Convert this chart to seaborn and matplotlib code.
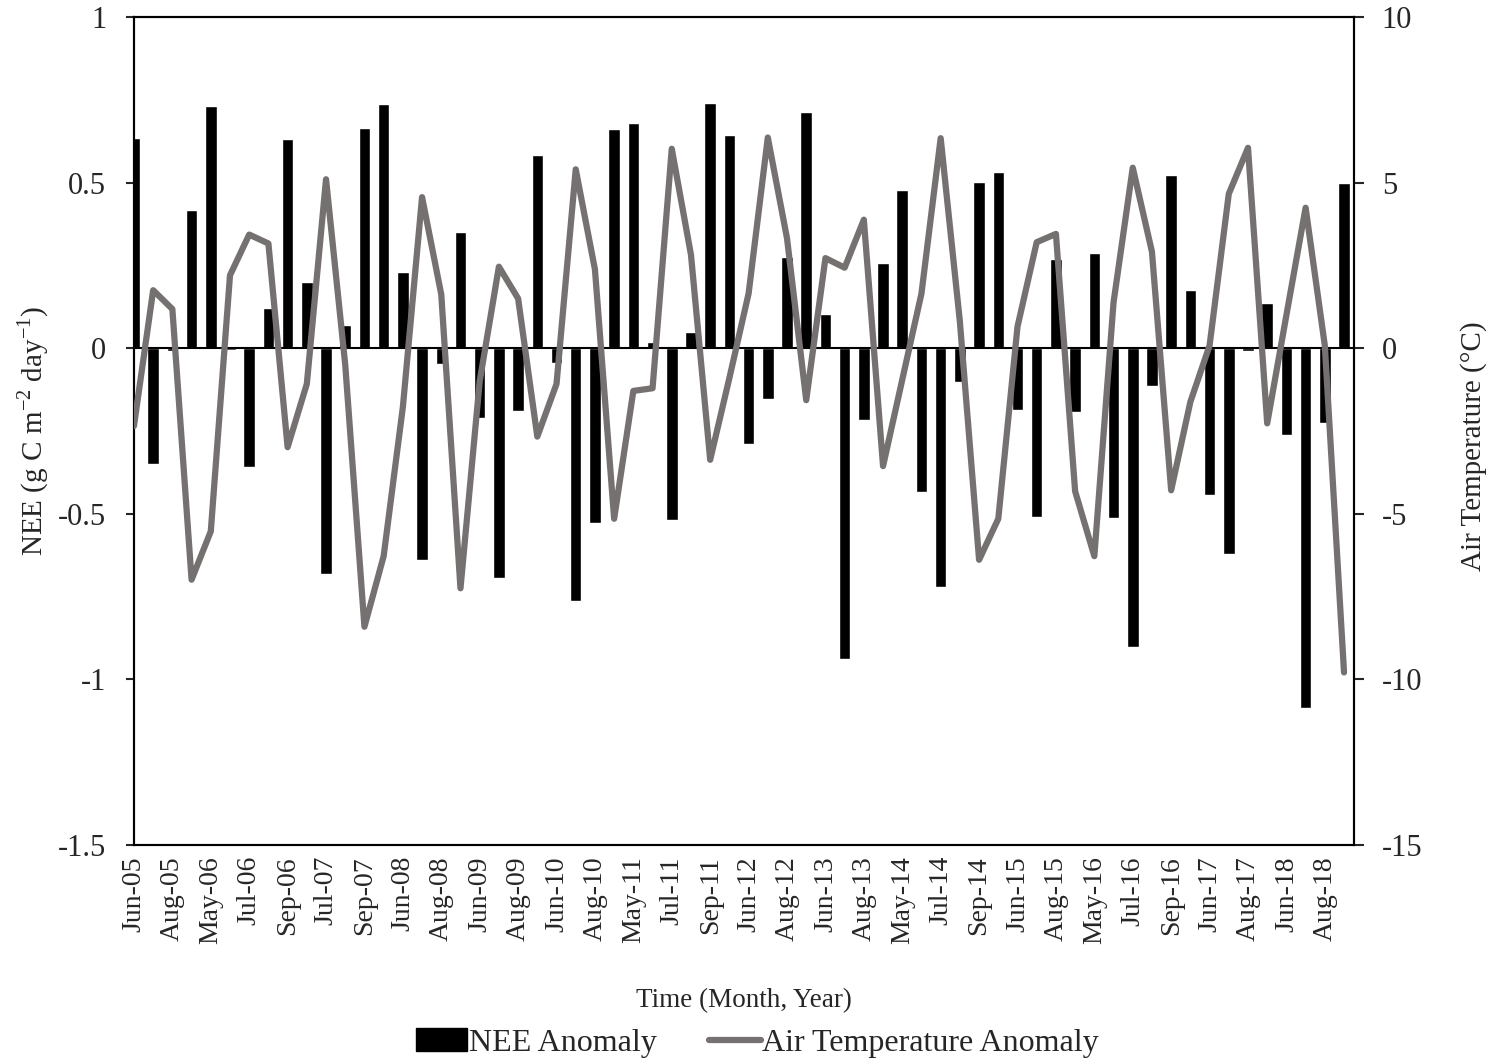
import numpy as np
import pandas as pd
import matplotlib
matplotlib.use("Agg")
import matplotlib.pyplot as plt
import seaborn as sns
from matplotlib.patches import Patch
from matplotlib.lines import Line2D

months = ["Jun-05","Jul-05","Aug-05","Sep-05","May-06","Jun-06","Jul-06","Aug-06","Sep-06",
          "Jun-07","Jul-07","Aug-07","Sep-07","May-08","Jun-08","Jul-08","Aug-08","Sep-08",
          "Jun-09","Jul-09","Aug-09","Sep-09","Jun-10","Jul-10","Aug-10","Sep-10",
          "May-11","Jun-11","Jul-11","Aug-11","Sep-11","May-12","Jun-12","Jul-12","Aug-12","Sep-12",
          "Jun-13","Jul-13","Aug-13","Sep-13","May-14","Jun-14","Jul-14","Aug-14","Sep-14",
          "May-15","Jun-15","Jul-15","Aug-15","Sep-15","May-16","Jun-16","Jul-16","Aug-16","Sep-16",
          "May-17","Jun-17","Jul-17","Aug-17","Sep-17","Jun-18","Jul-18","Aug-18","Sep-18"]

nee_anomaly = [0.636, -0.350, -0.008, 0.417, 0.730, -0.005, -0.359, 0.120, 0.631, 0.199,
               -0.683, 0.071, 0.665, 0.738, 0.230, -0.641,
               -0.049, 0.351, -0.210, -0.693, -0.191, 0.584, -0.045, -0.764, -0.528, 0.662,
               0.681, 0.019, -0.518, 0.049, 0.741, 0.644,
               -0.288, -0.154, 0.275, 0.714, 0.102, -0.939, -0.217, 0.256, 0.479, -0.434,
               -0.722, -0.102, 0.502, 0.532, -0.188, -0.510,
               0.270, -0.194, 0.286, -0.513, -0.901, -0.113, 0.523, 0.175, -0.443, -0.620,
               -0.008, 0.136, -0.262, -1.086, -0.227, 0.500]

temp_anomaly = [-2.35, 1.75, 1.18, -6.99, -5.53, 2.20, 3.43, 3.16, -2.99, -1.08,
                5.10, -0.5, -8.41, -6.28, -1.78, 4.56,
                1.62, -7.25, -1.0, 2.46, 1.50, -2.67, -1.08, 5.40, 2.38, -5.15,
                -1.29, -1.21, 6.02, 2.82, -3.37, -0.9,
                1.65, 6.36, 3.32, -1.57, 2.72, 2.43, 3.88, -3.56, -0.95, 1.65,
                6.34, 0.8, -6.39, -5.15, 0.65, 3.20,
                3.45, -4.32, -6.28, 1.38, 5.45, 2.91, -4.29, -1.62, 0.08, 4.66,
                6.05, -2.27, 1.0, 4.24, 0.08, -9.79]

left_ticks = [-1.5, -1, -0.5, 0, 0.5, 1]
left_ticklabels = ["-1.5", "-1", "-0.5", "0", "0.5", "1"]
right_ticks = [-15, -10, -5, 0, 5, 10]
right_ticklabels = ["-15", "-10", "-5", "0", "5", "10"]

df = pd.DataFrame({"idx": np.arange(len(months)), "month": months,
                   "nee": nee_anomaly, "temp": temp_anomaly})

sns.set_theme(style="white")
plt.rcParams["font.family"] = ["Liberation Serif", "DejaVu Serif"]
plt.rcParams["mathtext.fontset"] = "custom"
plt.rcParams["mathtext.rm"] = "Liberation Serif"
plt.rcParams["axes.unicode_minus"] = False

GRAY = "#767171"
fig = plt.figure(figsize=(14.95, 10.61), dpi=100)
ax = fig.add_axes([0.0896, 0.2036, 0.8161, 0.7804])

sns.barplot(data=df, x="idx", y="nee", native_scale=True, width=0.6,
            color="black", saturation=1, ax=ax, zorder=2)
ax.axhline(0, color="black", lw=1.5, zorder=3)
ax.set_ylim(-1.5, 1)
ax.set_yticks(left_ticks)
ax.set_yticklabels(left_ticklabels)
ax.set_xlim(0, 63.52)
ax.set_xticks(df["idx"][::2])
ax.set_xticklabels(df["month"][::2], rotation=90)
ax.tick_params(axis="x", length=0, pad=8, labelsize=20)
ax.tick_params(axis="y", direction="out", length=6, width=1.5, labelsize=22, pad=14, left=True)
ax.set_xlabel("Time (Month, Year)", fontsize=19.5, labelpad=32)
ax.set_ylabel(r"NEE (g C m$^{\mathregular{-2}}$ day$^{\mathregular{-1}}$)", fontsize=21, labelpad=5)

ax2 = ax.twinx()
sns.lineplot(data=df, x="idx", y="temp", color=GRAY, lw=4.5, ax=ax2, zorder=4)
ax2.set_ylim(-15, 10)
ax2.set_yticks(right_ticks)
ax2.set_yticklabels(right_ticklabels)
ax2.set_xlim(0, 63.52)
ax2.tick_params(axis="y", direction="out", length=7, width=1.5, labelsize=22, pad=13, right=True)
ax2.set_ylabel("Air Temperature (°C)", fontsize=21, labelpad=27)
ax2.yaxis.label.set_y(0.482)

for a in (ax, ax2):
    for s in a.spines.values():
        s.set_visible(True)
        s.set_color("black")
        s.set_linewidth(1.5)

handles = [Patch(facecolor="black", edgecolor="black", label="NEE Anomaly"),
           Line2D([0], [0], color=GRAY, lw=4.5, label="Air Temperature Anomaly")]
fig.legend(handles=handles, loc="lower center", bbox_to_anchor=(0.5067, -0.024), ncol=2,
           frameon=False, fontsize=23, handlelength=1.6, handletextpad=0.05,
           columnspacing=1.65)

fig.savefig("out.png", dpi=100)
